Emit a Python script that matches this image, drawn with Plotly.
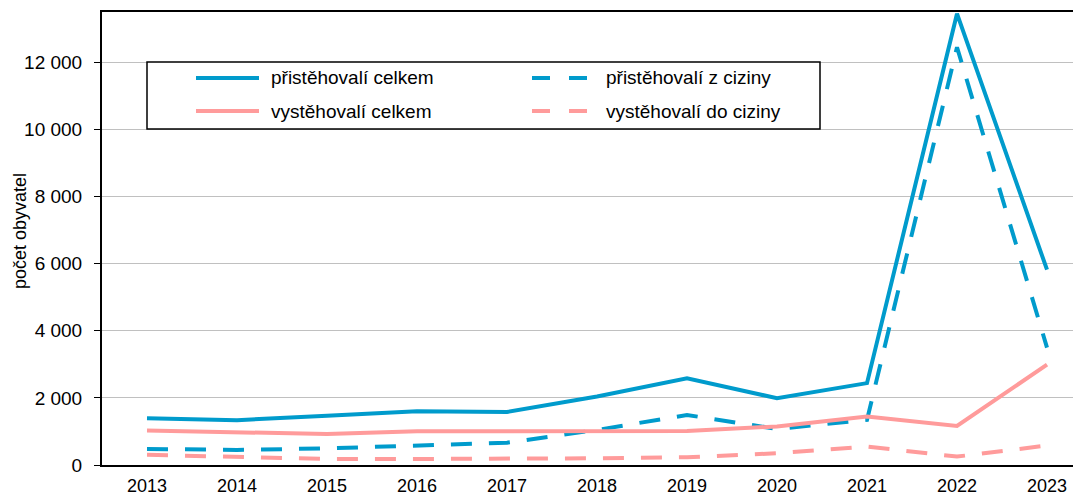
import plotly.graph_objects as go

years = ["2013", "2014", "2015", "2016", "2017", "2018", "2019", "2020", "2021", "2022", "2023"]
prist_celkem = [1395, 1335, 1470, 1600, 1580, 2040, 2585, 1990, 2440, 13450, 5820]
prist_ciziny = [480, 450, 495, 565, 665, 1045, 1490, 1075, 1345, 12450, 3500]
vyst_celkem = [1025, 985, 925, 1005, 1015, 1015, 1010, 1150, 1445, 1165, 2990]
vyst_ciziny = [305, 230, 180, 180, 180, 200, 230, 350, 550, 250, 580]

names = ["přistěhovalí celkem", "přistěhovalí z ciziny", "vystěhovalí celkem", "vystěhovalí do ciziny"]
y_title = "počet obyvatel"
BLUE = "#009BCC"
PINK = "#FF9B9B"
FONT = "Liberation Sans, Arial, sans-serif"
FS = 19
DASH = "21px,17px"

series = [
    (names[0], prist_celkem, BLUE, "solid"),
    (names[1], prist_ciziny, BLUE, DASH),
    (names[2], vyst_celkem, PINK, "solid"),
    (names[3], vyst_ciziny, PINK, DASH),
]

fig = go.Figure()
for name, vals, col, dash in series:
    fig.add_trace(go.Scatter(x=years, y=vals, name=name, mode="lines",
                             line=dict(color=col, width=4, dash=dash),
                             showlegend=False, cliponaxis=True))

# page body has an 8px margin; lay out in figure coordinates = window - OFF
OFF = 8
W, H = 1081, 494
ml, mr, mt = 102 - OFF, 0, 12 - OFF
mb = H - (465 - OFF)
pw, ph = W - ml - mr, H - mt - mb

def px(x):
    return (x - OFF - ml) / pw

def py(y):
    return 1 - (y - OFF - mt) / ph

# category range: first category at window x=147, 90px per category
x_right = (W - (147 - OFF)) / 90.0

shapes = []
shapes.append(dict(type="rect", xref="paper", yref="paper",
                   x0=px(147), x1=px(820), y0=py(129), y1=py(62),
                   line=dict(color="black", width=1.5), fillcolor="white", layer="above"))
legend_items = [
    (names[0], BLUE, "solid", 196, 259, 269, 78),
    (names[1], BLUE, DASH, 532, 588, 604, 78),
    (names[2], PINK, "solid", 196, 259, 269, 111),
    (names[3], PINK, DASH, 532, 588, 604, 111),
]
annotations = []
for name, col, dash, x0, x1, tx, yy in legend_items:
    d = "solid" if dash == "solid" else "18px,19px"
    shapes.append(dict(type="line", xref="paper", yref="paper",
                       x0=px(x0), x1=px(x1), y0=py(yy), y1=py(yy),
                       line=dict(color=col, width=4, dash=d), layer="above"))
    annotations.append(dict(xref="paper", yref="paper", x=px(tx), y=py(yy),
                            text=name, showarrow=False, xanchor="left", yanchor="middle",
                            font=dict(family=FONT, size=FS, color="black")))
annotations.append(dict(xref="paper", yref="paper", x=px(20), y=py(231),
                        text=y_title, textangle=-90, showarrow=False,
                        xanchor="center", yanchor="middle",
                        font=dict(family=FONT, size=FS - 1, color="black")))

fig.update_layout(
    width=W, height=H,
    margin=dict(l=ml, r=mr, t=mt, b=mb, pad=0, autoexpand=False),
    paper_bgcolor="white", plot_bgcolor="white",
    separators=", ",
    font=dict(family=FONT, size=FS, color="black"),
    shapes=shapes, annotations=annotations,
    showlegend=False,
    xaxis=dict(type="category", range=[-0.5, x_right], showgrid=False,
               showline=True, linecolor="black", linewidth=2, mirror=True,
               ticks="", ticklabelstandoff=3, automargin=False,
               tickfont=dict(family=FONT, size=18, color="black"), fixedrange=True),
    yaxis=dict(range=[0, 13500], tickvals=[0, 2000, 4000, 6000, 8000, 10000, 12000],
               tickformat=",d", showgrid=True, gridcolor="#C0C0C0", gridwidth=1,
               zeroline=False, showline=True, linecolor="black", linewidth=2,
               ticks="outside", ticklen=6, tickcolor="black", tickwidth=1,
               ticklabelstandoff=8, automargin=False,
               tickfont=dict(family=FONT, size=FS, color="black"),
               fixedrange=True),
)

fig.write_html("out.html")
